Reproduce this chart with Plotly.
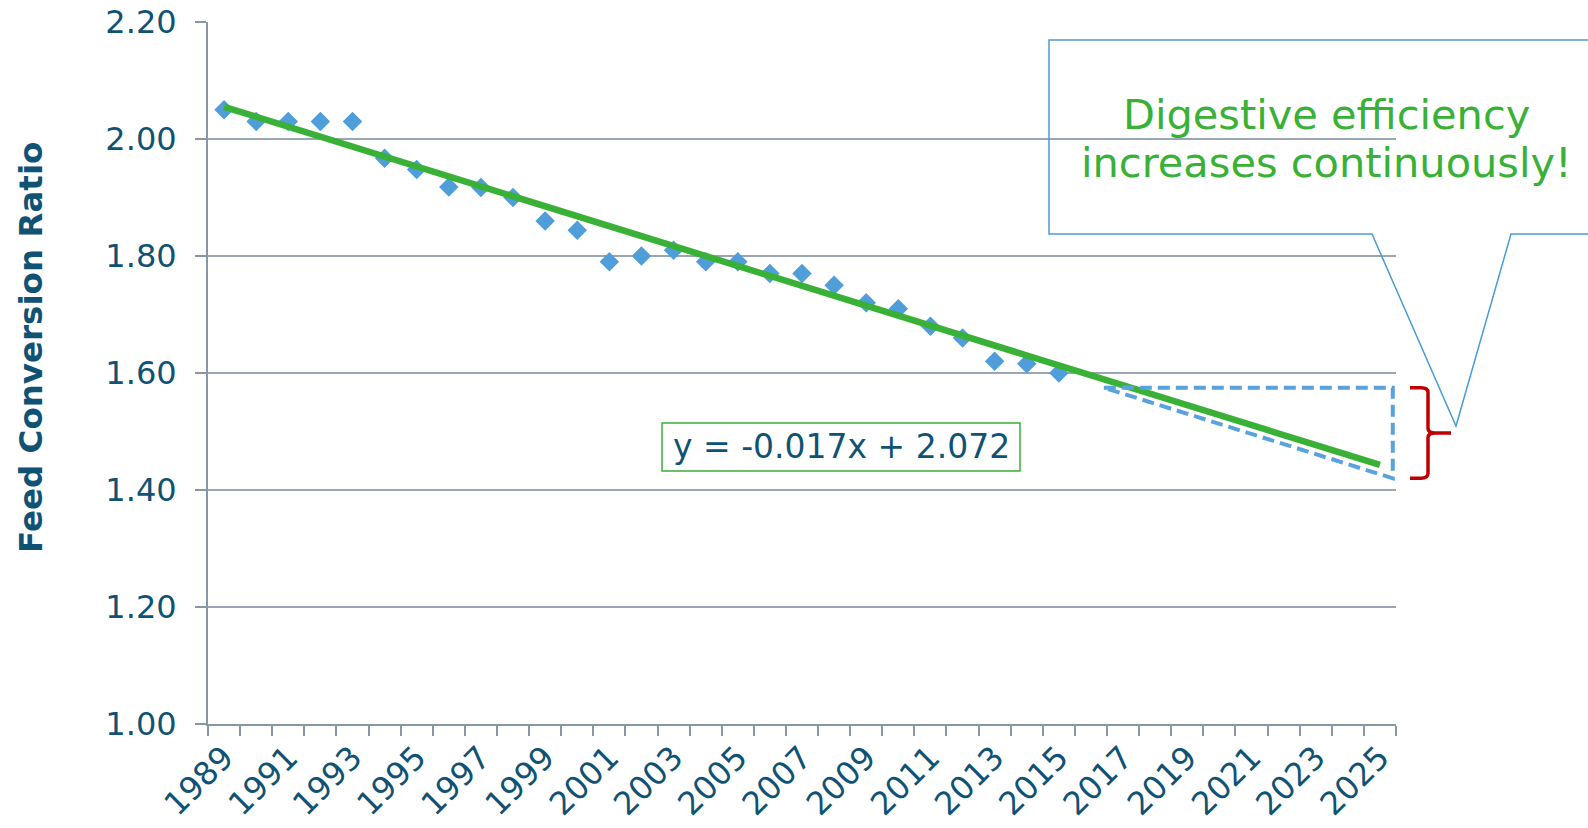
import plotly.graph_objects as go

# Feed conversion ratio, observed yearly values
years = list(range(1989, 2016))
fcr = [2.05, 2.03, 2.03, 2.03, 2.03, 1.967, 1.948, 1.918, 1.917, 1.90,
       1.86, 1.844, 1.79, 1.80, 1.81, 1.79, 1.79, 1.77, 1.77, 1.75,
       1.72, 1.71, 1.68, 1.66, 1.62, 1.616, 1.60]

# Linear trend (x = 1 for 1989) and the projection horizon
slope = -0.017
intercept = 2.072
first_year = 1989
last_year = 2025

# Projected gap (dashed triangle + brace)
proj_start_year = 2016.4
proj_end_year = 2025.4
gap_top = 1.575
gap_bottom = 1.42

tick_years = list(range(1989, 2026, 2))
y_ticks = [1.0, 1.2, 1.4, 1.6, 1.8, 2.0, 2.2]

FONT = "DejaVu Sans"
TEXT = "#0F5274"
GRID = "#9AA6B3"
AXIS = "#8896A6"
BLUE = "#4F9ED9"
GREEN = "#39B136"
RED = "#C00000"

W, H = 1588, 828
L, R, T, B = 208, 192, 22, 104
PW, PH = W - L - R, H - T - B


def px(x):
    return (x - L) / PW


def py(y):
    return (H - B - y) / PH


trend_x = [first_year, last_year]
trend_y = [intercept + slope * (yr - first_year + 1) for yr in trend_x]

fig = go.Figure()
fig.add_trace(go.Scatter(
    x=years, y=fcr, mode="markers",
    marker=dict(symbol="diamond", size=15, color=BLUE, line=dict(width=0)),
    showlegend=False, hoverinfo="x+y"))
fig.add_trace(go.Scatter(
    x=trend_x, y=trend_y, mode="lines",
    line=dict(color=GREEN, width=6.5),
    showlegend=False, hoverinfo="skip"))

shapes = []
# dashed projection triangle
shapes.append(dict(
    type="path", xref="x", yref="y",
    path=f"M {proj_start_year},{gap_top} L {proj_end_year},{gap_top} "
         f"L {proj_end_year},{gap_bottom} Z",
    line=dict(color="#5AA2DC", width=4, dash="12px,6px")))

# red brace next to the gap
ymid = (gap_top + gap_bottom) / 2
bx0, bx1, btip = px(1410), px(1428), px(1451)
r = 0.008
shapes.append(dict(
    type="path", xref="paper", yref="y",
    path=(f"M {bx0},{gap_top} L {bx1 - 0.006},{gap_top} "
          f"Q {bx1},{gap_top} {bx1},{gap_top - r} "
          f"L {bx1},{ymid + r} Q {bx1},{ymid} {bx1 + 0.006},{ymid} "
          f"L {btip},{ymid} M {bx1 + 0.006},{ymid} "
          f"Q {bx1},{ymid} {bx1},{ymid - r} "
          f"L {bx1},{gap_bottom + r} Q {bx1},{gap_bottom} {bx1 - 0.006},{gap_bottom} "
          f"L {bx0},{gap_bottom}"),
    line=dict(color=RED, width=3.5)))

# speech-bubble callout
cl, ct, cb, cr = 1049, 40, 234, 1600
shapes.append(dict(
    type="path", xref="paper", yref="paper",
    path=(f"M {px(cr)},{py(ct)} L {px(cl)},{py(ct)} L {px(cl)},{py(cb)} "
          f"L {px(1372)},{py(cb)} L {px(1456)},{py(426)} L {px(1511)},{py(cb)} "
          f"L {px(cr)},{py(cb)}"),
    line=dict(color="#4A9BD6", width=1.5)))

# equation box
shapes.append(dict(
    type="rect", xref="paper", yref="paper",
    x0=px(662), x1=px(1020), y0=py(471), y1=py(423),
    line=dict(color=GREEN, width=1.5)))

annotations = [
    dict(text="y = -0.017x + 2.072", xref="paper", yref="paper",
         x=px(841), y=py(447), xanchor="center", yanchor="middle",
         showarrow=False, font=dict(family=FONT, size=33, color=TEXT)),
    dict(text="Digestive efficiency", xref="paper", yref="paper",
         x=px(1326), y=py(114), xanchor="center", yanchor="middle",
         showarrow=False, font=dict(family=FONT, size=41.5, color=GREEN)),
    dict(text="increases continuously!", xref="paper", yref="paper",
         x=px(1326), y=py(163), xanchor="center", yanchor="middle",
         showarrow=False, font=dict(family=FONT, size=41.5, color=GREEN)),
    dict(text="<b>Feed Conversion Ratio</b>", xref="paper", yref="paper",
         x=px(31), y=py(348), xanchor="center", yanchor="middle",
         textangle=-90, showarrow=False,
         font=dict(family=FONT, size=32.5, color=TEXT)),
]

fig.update_layout(
    width=W, height=H,
    margin=dict(l=L, r=R, t=T, b=B, pad=0, autoexpand=False),
    paper_bgcolor="white", plot_bgcolor="white",
    shapes=shapes, annotations=annotations,
    font=dict(family=FONT, color=TEXT),
)
fig.update_xaxes(
    range=[first_year - 0.5, last_year + 0.5], automargin=False,
    tickmode="array", tickvals=tick_years, ticktext=[str(t) for t in tick_years],
    tickangle=-45, ticks="", showgrid=False,
    tickfont=dict(family=FONT, size=32, color=TEXT),
    showline=True, linecolor=AXIS, linewidth=2,
    minor=dict(tickmode="array",
               tickvals=[first_year - 0.5 + k for k in range(last_year - first_year + 2)],
               ticks="outside", ticklen=10, tickcolor=AXIS, tickwidth=2, showgrid=False),
    zeroline=False,
)
fig.update_yaxes(
    range=[1.0, 2.2], automargin=False, tickmode="array", tickvals=y_ticks,
    ticktext=[f"{v:.2f}" for v in y_ticks],
    ticks="outside", ticklen=11, tickcolor=AXIS, tickwidth=2,
    ticklabelstandoff=12,
    tickfont=dict(family=FONT, size=32, color=TEXT),
    showgrid=True, gridcolor=GRID, gridwidth=1.5,
    showline=True, linecolor=AXIS, linewidth=2, zeroline=False,
)

fig.write_html("out.html")
